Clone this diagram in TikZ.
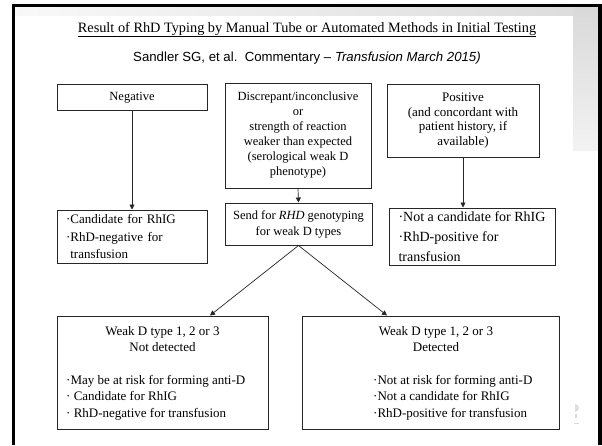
\documentclass[tikz,border=0pt]{standalone}
\usepackage{fontspec}
\setmainfont{Liberation Serif}
\newfontfamily\arialf{Liberation Sans}
\usetikzlibrary{arrows.meta}
\begin{document}
\begin{tikzpicture}[x=1pt,y=-1pt,
  box/.style={draw=black!85, line width=1pt, inner sep=0pt},
  arr/.style={-{Triangle[length=5pt,width=5pt]}, line width=0.7pt, draw=black!85},
  fa/.style={font=\fontsize{12.5}{15}\selectfont},
  fb/.style={font=\fontsize{13}{17.5}\selectfont},
  fc/.style={font=\fontsize{14}{20}\selectfont},
  fd/.style={font=\fontsize{13}{16.5}\selectfont},
  txt/.style={inner sep=0pt, text=black}]
\useasboundingbox (0,0) rectangle (602,445);
\fill[white] (0,0) rectangle (602,445);
% slide background
\shade[left color=gray!5, right color=gray!28] (15,7) rectangle (598,15);
\shade[top color=gray!30, bottom color=gray!10] (573,7) rectangle (598,150);
\fill[gray!25] (575,404) arc (90:-90:4pt) -- cycle;
\fill[gray!30] (575,414) rectangle (577,418);
\fill[gray!30] (574,423) rectangle (579,424);
% frame
\fill[black] (12,4) rectangle (15,445);
\fill[black] (12,4) rectangle (602,7);
\fill[black] (598,4) rectangle (602,445);
% title
\node[txt, anchor=base, font=\fontsize{14.3}{16}\selectfont] (title) at (307,32)
  {\underline{Result of RhD Typing by Manual Tube or Automated Methods in Initial Testing}};
\node[txt, anchor=base, font=\arialf\fontsize{13.2}{15}\selectfont] (sub) at (307,61)
  {Sandler SG, et al.\ \ Commentary – \textit{Transfusion March 2015)}};
% top boxes
\node[box, fa, minimum width=150pt, minimum height=26pt] (neg) at (132,97.5) {Negative};
\node[box, fa, align=center, minimum width=146pt, minimum height=105pt] (mid) at (298,135.5)
  {Discrepant/inconclusive\\or\\strength of reaction\\weaker than expected\\(serological weak D\\phenotype)};
\node[box, font=\fontsize{13}{14.7}\selectfont, align=center, minimum width=152pt, minimum height=73pt] (pos) at (463,120.5)
  {Positive\\(and concordant with\\patient history, if\\available)};
% middle boxes
\node[box, fb, align=left, text width=132pt, minimum width=150pt, minimum height=53pt] (cand) at (132,236.5)
  {·Candidate for RhIG\\·RhD-negative for\\\phantom{·}transfusion};
\node[box, font=\fontsize{12.5}{16}\selectfont, align=center, minimum width=147pt, minimum height=42pt] (send) at (298.5,224)
  {Send for \textit{RHD} genotyping\\for weak D types};
\node[box, fc, align=left, minimum width=166pt, minimum height=57pt] (notc) at (472,236.5)
  {·Not a candidate for RhIG\\·RhD-positive for\\transfusion};
% bottom boxes
\node[box, minimum width=211pt, minimum height=113pt] (bl) at (162.5,372.5) {};
\node[box, minimum width=257pt, minimum height=113pt] (br) at (430.5,372.5) {};
\node[txt, fd, align=center, anchor=north] (blh) at (162.5,326)
  {Weak D type 1, 2 or 3\\Not detected};
\node[txt, fd, align=left, anchor=north west] (blt) at (66,375)
  {·May be at risk for forming anti-D\\· Candidate for RhIG\\· RhD-negative for transfusion};
\node[txt, fd, align=center, anchor=north] (brh) at (436,326)
  {Weak D type 1, 2 or 3\\Detected};
\node[txt, fd, align=left, anchor=north west] (brt) at (373,375)
  {·Not at risk for forming anti-D\\·Not a candidate for RhIG\\·RhD-positive for transfusion};
% connectors
\draw[arr] (neg.south) -- (cand.north);
\draw[arr] (mid.south) -- (send.north);
\draw[arr] (pos.south) -- (pos.south |- notc.north);
\draw[arr] (send.south) -- ([xshift=47.5pt]bl.north);
\draw[arr] (send.south) -- ([xshift=-43.5pt]br.north);
\end{tikzpicture}
\end{document}
